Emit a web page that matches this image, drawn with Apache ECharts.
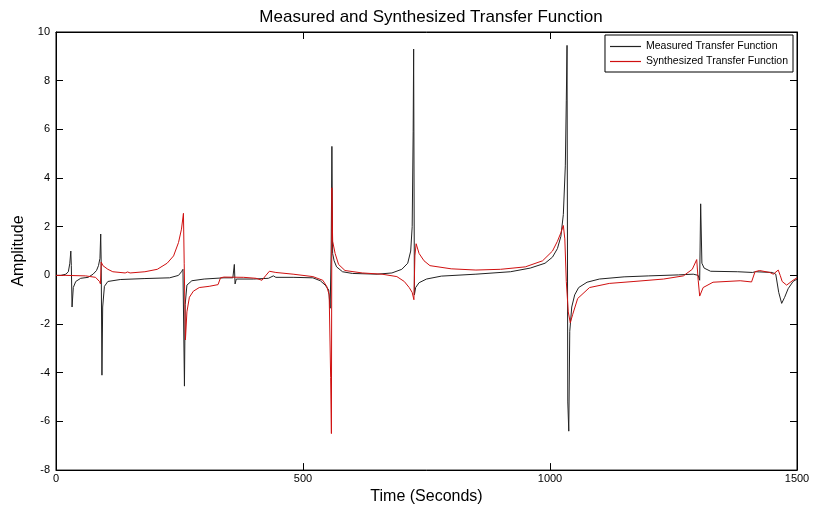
<!DOCTYPE html>
<html>
<head>
<meta charset="utf-8">
<script src="https://cdn.jsdelivr.net/npm/echarts@6/dist/echarts.min.js"></script>
<style>
html,body{margin:0;padding:0;background:#fff;}
#chart{width:819px;height:510px;}
</style>
</head>
<body>
<div id="chart"></div>
<script>
// ---- data ----
var measuredT = [0,10,20,25,28,30,31,32.5,35,40,50,65,75,82,86,89,90.5,91.5,93,94.5,98,105,130,180,230,248,254,257,258.5,260,261.5,265,275,300,340,358,361,362.5,365,400,430,440,445,480,520,535,545,552,555,557,558.5,560,563,568,580,600,650,680,700,712,718,721,723,724,725.5,728,735,750,780,850,920,960,990,1005,1015,1022,1027,1031,1033,1034.5,1036,1038,1040,1044,1050,1058,1075,1100,1150,1200,1260,1290,1300,1303,1305,1307.5,1312,1325,1380,1410,1412,1416,1450,1457,1463,1469,1475,1482,1492,1500];
var measuredY = [0,0,0.05,0.15,0.5,1.0,0.4,-1.3,-0.5,-0.25,-0.12,-0.08,0.05,0.2,0.4,0.7,1.7,0.5,-4.1,-1.3,-0.45,-0.25,-0.17,-0.13,-0.1,0.0,0.15,0.25,0.3,-4.55,-1.2,-0.4,-0.22,-0.15,-0.1,-0.1,0.45,-0.35,-0.15,-0.15,-0.12,-0.02,-0.08,-0.08,-0.1,-0.22,-0.4,-0.6,-1.35,1.0,5.3,0.9,0.6,0.35,0.15,0.08,0.05,0.1,0.25,0.5,1.0,2.0,5.9,9.3,-0.8,-0.5,-0.3,-0.15,-0.03,0.05,0.15,0.3,0.5,0.75,1.1,1.6,2.5,4.5,7.2,9.45,-5.2,-6.4,-2.3,-1.3,-0.8,-0.5,-0.28,-0.15,-0.06,-0.02,0.02,0.05,0.0,-0.2,2.94,0.5,0.3,0.17,0.15,0.12,0.2,0.15,0.12,0.05,-0.7,-1.15,-0.9,-0.55,-0.25,-0.15];

var synthT = [0,20,60,80,88,90,91.5,95,105,115,140,145,150,180,205,225,238,248,254,258,259.5,262,265,270,278,290,310,328,333,340,380,405,417,424,432,445,480,520,540,548,553,556,557.5,558.5,560,565,572,585,620,660,690,705,715,721,724.5,726.5,729,735,745,757,800,850,900,950,985,1005,1015,1022,1027,1030,1033,1037,1041,1046,1056,1080,1120,1170,1230,1270,1288,1297,1300,1303,1310,1330,1385,1408,1411,1415,1424,1445,1452,1456,1462,1466,1470,1479,1492,1500];
var synthY = [0,0,-0.02,-0.08,-0.25,-0.35,0.55,0.4,0.25,0.15,0.1,0.14,0.1,0.15,0.25,0.5,0.8,1.35,1.9,2.55,0.5,-2.65,-1.5,-0.9,-0.65,-0.5,-0.45,-0.38,-0.1,-0.07,-0.08,-0.12,-0.2,-0.02,0.17,0.12,0.05,-0.05,-0.2,-0.45,-0.8,-4.2,-6.5,3.6,1.4,0.9,0.45,0.2,0.1,0.05,-0.05,-0.25,-0.5,-0.7,-1.0,0.8,1.3,0.9,0.6,0.4,0.27,0.22,0.25,0.35,0.6,1.0,1.4,1.75,2.05,1.5,-0.25,-1.5,-1.95,-1.6,-0.95,-0.5,-0.33,-0.25,-0.15,-0.02,0.25,0.65,-0.2,-0.85,-0.5,-0.28,-0.22,-0.27,-0.3,0.15,0.2,0.12,0.05,0.06,0.22,0.0,-0.25,-0.4,-0.2,-0.1];

var xTicks = [0, 500, 1000, 1500];
var yTicks = [-8, -6, -4, -2, 0, 2, 4, 6, 8, 10];
var seriesNames = ['Measured Transfer Function', 'Synthesized Transfer Function'];

function pairs(t, y) { return t.map(function (v, i) { return [v, y[i]]; }); }

var FONT = '"Liberation Sans", Arial, sans-serif';
var chart = echarts.init(document.getElementById('chart'), null, {renderer: 'canvas'});

function axisCommon() {
  return {
    axisLine: {show: true, onZero: false, lineStyle: {color: '#000', width: 1}},
    axisTick: {show: true, inside: true, length: 7, lineStyle: {color: '#000'}},
    splitLine: {show: false}
  };
}

chart.setOption({
  animation: false,
  backgroundColor: '#fff',
  title: {
    text: 'Measured and Synthesized Transfer Function',
    left: 426, top: 4, textAlign: 'center',
    textStyle: {fontFamily: FONT, fontSize: 17, fontWeight: 'normal', color: '#000'}
  },
  legend: {
    orient: 'vertical',
    right: 26, top: 35,
    padding: [6, 5, 5, 5],
    itemGap: 4,
    itemWidth: 31, itemHeight: 1.2,
    icon: 'rect',
    backgroundColor: '#fff',
    borderColor: '#000', borderWidth: 1,
    textStyle: {fontFamily: FONT, fontSize: 10.5, color: '#000'},
    data: seriesNames
  },
  grid: {left: 56, right: 22, top: 32, bottom: 37, show: true, borderColor: '#000', borderWidth: 1, backgroundColor: '#fff'},
  xAxis: [
    Object.assign({
      type: 'value', min: xTicks[0], max: xTicks[xTicks.length - 1], interval: 500,
      name: 'Time (Seconds)', nameLocation: 'middle', nameGap: 17,
      nameTextStyle: {fontFamily: FONT, fontSize: 16, color: '#000'},
      axisLabel: {fontFamily: FONT, fontSize: 11, color: '#000', margin: 3, formatter: function (v) { return String(v); }}
    }, axisCommon()),
    Object.assign({
      type: 'value', position: 'top', min: 0, max: 1500, interval: 500,
      axisLabel: {show: false}
    }, axisCommon())
  ],
  yAxis: [
    Object.assign({
      type: 'value', min: yTicks[0], max: yTicks[yTicks.length - 1], interval: 2,
      name: 'Amplitude', nameLocation: 'middle', nameGap: 12,
      nameTextStyle: {fontFamily: FONT, fontSize: 16, color: '#000'},
      axisLabel: {fontFamily: FONT, fontSize: 11, color: '#000', margin: 6}
    }, axisCommon()),
    Object.assign({
      type: 'value', position: 'right', min: -8, max: 10, interval: 2,
      axisLabel: {show: false}
    }, axisCommon())
  ],
  series: [
    {
      name: seriesNames[0], type: 'line', data: pairs(measuredT, measuredY),
      symbol: 'none', z: 2,
      lineStyle: {color: '#222', width: 1}, itemStyle: {color: '#222'}
    },
    {
      name: seriesNames[1], type: 'line', data: pairs(synthT, synthY),
      symbol: 'none', z: 3,
      lineStyle: {color: '#d01010', width: 1}, itemStyle: {color: '#d01010'}
    }
  ]
});
</script>
</body>
</html>
